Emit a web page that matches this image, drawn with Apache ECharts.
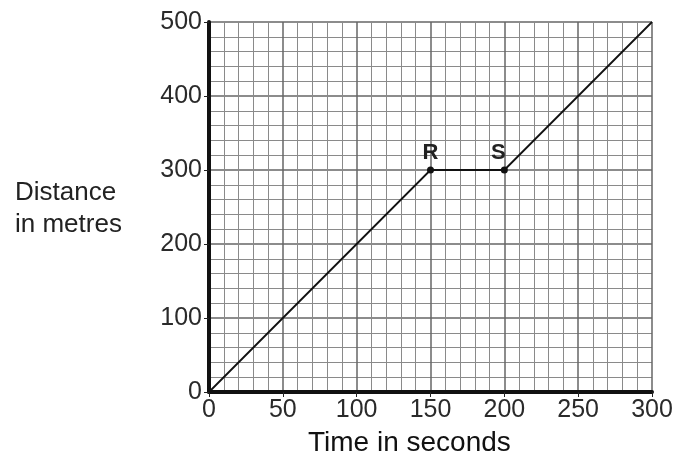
<!DOCTYPE html>
<html>
<head>
<meta charset="utf-8">
<script src="https://cdn.jsdelivr.net/npm/echarts@6/dist/echarts.min.js"></script>
<style>html,body{margin:0;padding:0;background:#fff;}#c{width:681px;height:463px;}</style>
</head>
<body>
<div id="c"></div>
<script>
var xTicks = [0, 50, 100, 150, 200, 250, 300];
var yTicks = [0, 100, 200, 300, 400, 500];
var times = [0, 150, 200, 300];
var distances = [0, 300, 300, 500];
var pointLabels = ['', 'R', 'S', ''];

var FONT = '"Liberation Sans", Arial, sans-serif';
var chart = echarts.init(document.getElementById('c'));
var data = times.map(function (t, i) {
  var d = { value: [t, distances[i]] };
  if (pointLabels[i]) {
    d.symbol = 'circle';
    d.symbolSize = 7;
    d.label = { show: true, formatter: pointLabels[i], position: 'top', distance: 3,
      offset: [i === 2 ? -6 : 0, 0],
      fontFamily: FONT, fontWeight: 'bold', fontSize: 22, color: '#222' };
  } else {
    d.symbol = 'none';
  }
  return d;
});
chart.setOption({
  animation: false,
  backgroundColor: '#fff',
  grid: { left: 209, right: 29, top: 22, bottom: 71, containLabel: false },
  xAxis: {
    type: 'value', min: xTicks[0], max: xTicks[xTicks.length - 1], interval: 50,
    axisLine: { show: true, onZero: false, lineStyle: { color: '#111', width: 4 } },
    axisTick: { show: true, length: 5, lineStyle: { color: '#222', width: 1 } },
    axisLabel: { fontFamily: FONT, fontSize: 25, color: '#2a2a2a', margin: 6 },
    splitLine: { show: true, lineStyle: { color: '#666', width: 1.5 } },
    minorTick: { show: false, splitNumber: 5 },
    minorSplitLine: { show: true, lineStyle: { color: '#8a8a8a', width: 1 } }
  },
  yAxis: {
    type: 'value', min: yTicks[0], max: yTicks[yTicks.length - 1], interval: 100,
    axisLine: { show: true, onZero: false, lineStyle: { color: '#111', width: 4 } },
    axisTick: { show: true, length: 5, lineStyle: { color: '#222', width: 1 } },
    axisLabel: { fontFamily: FONT, fontSize: 25, color: '#2a2a2a', margin: 7 },
    splitLine: { show: true, lineStyle: { color: '#666', width: 1.5 } },
    minorTick: { show: false, splitNumber: 5 },
    minorSplitLine: { show: true, lineStyle: { color: '#8a8a8a', width: 1 } }
  },
  graphic: [
    { type: 'text', left: 15, top: 177, style: { text: 'Distance\nin metres', font: '26px ' + FONT, fill: '#222', lineHeight: 32 } },
    { type: 'text', left: 308, top: 429, style: { text: 'Time in seconds', font: '28px ' + FONT, fill: '#111' } }
  ],
  series: [{
    type: 'line',
    data: data,
    lineStyle: { color: '#111', width: 1.8 },
    itemStyle: { color: '#111' },
    z: 5
  }]
});
</script>
</body>
</html>
